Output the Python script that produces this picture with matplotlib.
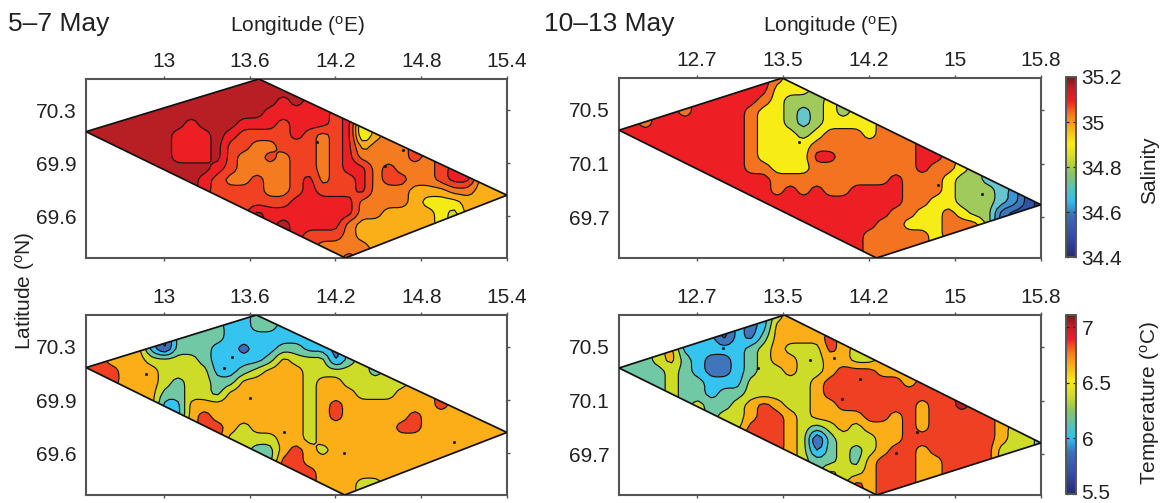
import numpy as np
import matplotlib
matplotlib.use("Agg")
import matplotlib.pyplot as plt
from matplotlib.colors import LinearSegmentedColormap, Normalize
from matplotlib.cm import ScalarMappable
from matplotlib.patches import Polygon
from matplotlib.transforms import ScaledTranslation

plt.rcParams["font.family"] = ["Liberation Sans", "DejaVu Sans"]
plt.rcParams["mathtext.fontset"] = "custom"
plt.rcParams["mathtext.rm"] = "Liberation Sans"

W, H = 1161, 503
INK = "#222222"
FRAME = "#555555"

# band values, one digit per grid node: (first column, digits)
SALT_EARLY = [
    (13, "0"), (11, "00000"), (8, "000000010"), (5, "00000000011111"),
    (2, "0000001000111211121"), (1, "0000001110122221232164"),
    (3, "0000111022332223214333"), (5, "001110233232232133332"),
    (6, "0000123333223211323332"), (8, "0123323321322132233211"),
    (10, "2222332122213334443344"), (11, "22222111113333455544"),
    (13, "0111111133444456"), (15, "011113444444"),
    (17, "22234444"), (18, "3333"), (20, "2"),
]
SALT_LATE = [
    (12, "12"), (10, "00222"), (8, "00012333"), (5, "1000012234323"),
    (2, "100000001223432222"), (1, "000000000122232111211"),
    (3, "000000012222111111110"), (5, "00000122220011111100"),
    (6, "000011222111111110112"), (8, "000011111111101112334"),
    (10, "00101011000011123334"), (11, "0000000000011223334578"),
    (13, "000000001122123367"), (15, "0000011222111"),
    (17, "00111112"), (18, "01111"), (20, "1"),
]
TEMP_EARLY = [
    (13, "3"), (11, "4433"), (8, "333444444"), (5, "46333445443344"),
    (2, "1112222344443122253"), (1, "0011122224432111222223"),
    (3, "1112322331111121122222"), (4, "1133223111111211122211"),
    (6, "4411111111121011111110"), (8, "1011111112101111101111"),
    (10, "0121111211111100111111"), (11, "22221121111111111111"),
    (13, "3310121111111111"), (15, "001111111111"),
    (17, "01111111"), (18, "11122"), (20, "1"),
]
TEMP_LATE = [
    (12, "32"), (10, "65222"), (8, "75642222"), (5, "5555543233312"),
    (2, "432456654322332233"), (1, "444345665433233211122"),
    (3, "43445553333321111112"), (4, "344544333332111111111"),
    (6, "344321233221111112110"), (8, "332112322221121211111"),
    (10, "11123432322212111112"), (11, "1123743332211111112334"),
    (13, "236434321121111133"), (15, "4434211122111"),
    (16, "2332111221"), (18, "1211"), (20, "1"),
]

# very small closed contours seen as dots (lon, lat)
SPOTS_SE = [(14.073, 70.039), (14.55, 69.886), (14.67, 69.986)]
SPOTS_SL = [(13.62, 70.258), (14.87, 69.94), (15.27, 69.875)]
SPOTS_TE = [(13.477, 70.187), (13.42, 70.114), (13.84, 69.687), (14.257, 69.547),
            (15.03, 69.62), (12.874, 70.07), (13.605, 69.914)]
SPOTS_TL = [(12.94, 70.49), (13.25, 70.343), (13.72, 70.403), (13.94, 70.418),
            (14.167, 70.26), (14.01, 70.11), (14.68, 69.865), (14.49, 69.71)]

COLORS_SE = ["#B71F24", "#ED1F24", "#F04123", "#F47B20", "#FAAE17", "#F5EB14", "#D5DC26"]
COLORS_SL = ["#ED1F24", "#F37320", "#F8EC17", "#A0CB5C", "#66C6CC", "#3E93D0", "#3A77BC", "#3054A3", "#28347F"]
COLORS_TE = ["#F04023", "#FBAE17", "#CDDC29", "#71C8A4", "#35C4F0", "#3F6DB5", "#2F4FA0"]
COLORS_TL = ["#B71F24", "#F04023", "#FBAE17", "#CDDC29", "#71C8A4", "#35C4F0", "#3F75BB", "#2F4FA0"]

# survey outlines: west, north, east and south corners (lon, lat)
OUTLINE_SE = [(12.455, 70.11), (13.665, 70.458), (15.40, 69.69), (14.27, 69.275)]
OUTLINE_SL = [(12.0, 70.349), (13.47, 70.739), (15.8, 69.792), (14.319, 69.394)]
OUTLINE_TE = [(12.455, 70.114), (13.647, 70.461), (15.40, 69.686), (14.264, 69.273)]
OUTLINE_TL = [(12.0, 70.343), (13.49, 70.739), (15.8, 69.783), (14.32, 69.394)]

LON_TICKS_E = [13, 13.6, 14.2, 14.8, 15.4]
LON_LABELS_E = ["13", "13.6", "14.2", "14.8", "15.4"]
LON_TICKS_L = [12.7, 13.475, 14.25, 15.025, 15.8]
LON_LABELS_L = ["12.7", "13.5", "14.2", "15", "15.8"]
LAT_TICKS_E = [70.25, 69.9, 69.55]
LAT_LABELS_E = ["70.3", "69.9", "69.6"]
LAT_TICKS_L = [70.5, 70.1, 69.7]
LAT_LABELS_L = ["70.5", "70.1", "69.7"]

SALT_CBAR_TICKS = [34.4, 34.6, 34.8, 35.0, 35.2]
SALT_CBAR_LABELS = ["34.4", "34.6", "34.8", "35", "35.2"]
TEMP_CBAR_TICKS = [5.5, 6.0, 6.5, 7.0]
TEMP_CBAR_LABELS = ["5.5", "6", "6.5", "7"]


def px_axes(fig, x0, y0, x1, y1):
    return fig.add_axes([x0 / W, 1 - y1 / H, (x1 - x0) / W, (y1 - y0) / H])


def to_grid(rows, ncols=33):
    grid = np.full((len(rows), ncols), np.nan)
    for j, (start, digits) in enumerate(rows):
        for k, ch in enumerate(digits):
            grid[j, start + k] = int(ch)
    jj, ii = np.indices(grid.shape)
    good = ~np.isnan(grid)
    for j, i in zip(jj[~good], ii[~good]):
        d = (jj[good] - j) ** 2 * 0.75 + (ii[good] - i) ** 2
        grid[j, i] = grid[good][np.argmin(d)]
    return grid


def refine(z, factor=3):
    """Bilinear refinement with one light pass to round the grid corners."""
    ny, nx = z.shape
    yf = np.linspace(0, ny - 1, (ny - 1) * factor + 1)
    xf = np.linspace(0, nx - 1, (nx - 1) * factor + 1)
    a = np.array([np.interp(xf, np.arange(nx), r) for r in z])
    b = np.array([np.interp(yf, np.arange(ny), c) for c in a.T]).T
    p = np.pad(b, 1, mode="edge")
    kernel = np.array([0.25, 0.5, 0.25])
    s = np.apply_along_axis(lambda m: np.convolve(m, kernel, mode="same"), 0, p)
    s = np.apply_along_axis(lambda m: np.convolve(m, kernel, mode="same"), 1, s)
    return s[1:-1, 1:-1]


def panel(fig, box, rows, colors, outline, spots, xlim, ylim, xticks, xlabels, yticks, ylabels):
    ax = px_axes(fig, *box)
    z = refine(to_grid(rows))
    lon = np.linspace(xlim[0], xlim[1], z.shape[1])
    lat = np.linspace(ylim[1], ylim[0], z.shape[0])
    n = len(colors)
    levels = np.arange(-0.5, n, 1.0)
    poly = Polygon(outline, closed=True, fill=False, ec="#111111", lw=1.25, zorder=5, joinstyle="miter")
    ax.add_patch(poly)
    cf = ax.contourf(lon, lat, z, levels=levels, colors=colors, antialiased=True)
    cl = ax.contour(lon, lat, z, levels=levels[1:-1], colors="#111111", linewidths=0.85)
    cf.set_clip_path(poly)
    cl.set_clip_path(poly)
    ax.plot([p[0] for p in spots], [p[1] for p in spots], ls="none", marker="o", ms=1.9,
            mfc="#111111", mec="#111111", mew=0.3, zorder=4)
    ax.set_xlim(*xlim)
    ax.set_ylim(*ylim)
    ax.set_xticks(xticks)
    ax.set_xticklabels(xlabels)
    ax.set_yticks(yticks)
    ax.set_yticklabels(ylabels)
    ax.tick_params(axis="x", top=True, bottom=True, labeltop=True, labelbottom=False,
                   length=2.5, width=1.0, color=FRAME, labelsize=15, labelcolor=INK, pad=3.5)
    ax.tick_params(axis="y", left=False, right=True, labelleft=True, labelright=False,
                   length=2.5, width=1.0, color=FRAME, labelsize=15, labelcolor=INK, pad=4.5)
    for s in ax.spines.values():
        s.set_color(FRAME)
        s.set_linewidth(1.5)
    return ax


CBAR_CMAP = LinearSegmentedColormap.from_list("ocean_jet", [
    (0.00, "#262A78"), (0.10, "#34479F"), (0.23, "#3A70B8"), (0.31, "#35BDEB"),
    (0.38, "#57C3B8"), (0.47, "#8BC65F"), (0.55, "#CFDB2A"), (0.63, "#FBEC14"),
    (0.72, "#FAAE17"), (0.79, "#F47B20"), (0.87, "#ED1F24"), (0.94, "#C01F24"),
    (1.00, "#751A1C"),
])


def cbar(fig, box, vmin, vmax, ticks, labels, title, ycenter):
    cax = px_axes(fig, *box)
    sm = ScalarMappable(norm=Normalize(vmin, vmax), cmap=CBAR_CMAP)
    cb = fig.colorbar(sm, cax=cax)
    cb.set_ticks(ticks)
    cb.set_ticklabels(labels)
    cb.minorticks_off()
    cax.tick_params(axis="y", direction="in", left=True, right=True, length=2,
                    width=0.9, color="#222222", labelsize=15, labelcolor=INK, pad=4)
    cb.outline.set_edgecolor(FRAME)
    cb.outline.set_linewidth(1.4)
    fig.text(1150 / W, 1 - ycenter / H, title, rotation=90, ha="center", va="center",
             fontsize=15, color=INK)
    return cax


fig = plt.figure(figsize=(W / 100, H / 100), dpi=100, facecolor="white")

XL_E, XL_L = (12.455, 15.4), (12.0, 15.8)
panel(fig, (86, 79, 507, 258), SALT_EARLY, COLORS_SE, OUTLINE_SE, SPOTS_SE, XL_E, (69.275, 70.458),
      LON_TICKS_E, LON_LABELS_E, LAT_TICKS_E, LAT_LABELS_E)
panel(fig, (619, 78, 1041, 258), SALT_LATE, COLORS_SL, OUTLINE_SL, SPOTS_SL, XL_L, (69.394, 70.739),
      LON_TICKS_L, LON_LABELS_L, LAT_TICKS_L, LAT_LABELS_L)
panel(fig, (86, 315, 507, 495), TEMP_EARLY, COLORS_TE, OUTLINE_TE, SPOTS_TE, XL_E, (69.273, 70.461),
      LON_TICKS_E, LON_LABELS_E, LAT_TICKS_E, LAT_LABELS_E)
panel(fig, (619, 315, 1041, 495), TEMP_LATE, COLORS_TL, OUTLINE_TL, SPOTS_TL, XL_L, (69.394, 70.739),
      LON_TICKS_L, LON_LABELS_L, LAT_TICKS_L, LAT_LABELS_L)

cbar(fig, (1066, 77, 1076, 257), 34.4, 35.2, SALT_CBAR_TICKS, SALT_CBAR_LABELS, "Salinity", 170)
cax_t = cbar(fig, (1066, 315, 1076, 494), 5.5, 7.11, TEMP_CBAR_TICKS, TEMP_CBAR_LABELS,
             "Temperature ($\\mathrm{^{o}}$C)", 403)
low = cax_t.get_yticklabels()[0]
low.set_transform(low.get_transform() + ScaledTranslation(0, 2 / 72, fig.dpi_scale_trans))

fig.text(8 / W, 1 - 24 / H, "5–7 May", fontsize=19, color=INK, ha="left", va="center")
fig.text(544 / W, 1 - 24 / H, "10–13 May", fontsize=19, color=INK, ha="left", va="center")
fig.text(297 / W, 1 - 26 / H, "Longitude ($\\mathrm{^{o}}$E)", fontsize=15, color=INK, ha="center", va="center")
fig.text(830 / W, 1 - 26 / H, "Longitude ($\\mathrm{^{o}}$E)", fontsize=15, color=INK, ha="center", va="center")
fig.text(25 / W, 1 - 291 / H, "Latitude ($\\mathrm{^{o}}$N)", rotation=90, fontsize=15, color=INK,
         ha="center", va="center")

fig.savefig("out.png", dpi=100)
